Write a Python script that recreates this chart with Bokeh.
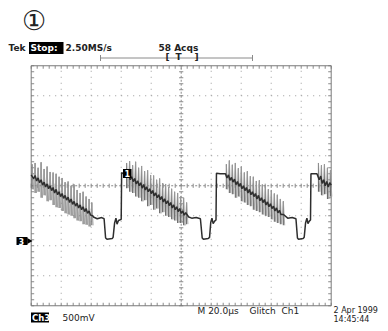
import numpy as np
from bokeh.plotting import figure
from bokeh.models import Range1d
from bokeh.core.properties import value
from bokeh.embed import file_html
from bokeh.resources import INLINE

# ---- scope settings ----
US_PER_DIV = 20.0
VOLTS_PER_DIV = 0.5
GROUND_DIV = -1.84          # Ch3 ground marker (divisions from screen centre)
N_XDIV, N_YDIV = 10, 8

# ---- averaged trace pieces (time in microseconds, Ch3 volts) ----
RAMP1_T = [0.0, 1.6, 2.6, 3.6, 4.6, 5.6, 6.6, 7.6, 8.6, 9.6, 10.6, 11.6, 12.6, 13.6, 14.6, 15.6, 16.6, 17.6,
           18.6, 19.6, 20.6, 21.6, 22.6, 23.6, 24.6, 25.6, 26.6, 27.6, 28.6, 29.6, 30.6, 31.6, 32.6, 33.6,
           34.6, 35.6, 36.6, 37.6, 38.6, 39.6, 41.0]
RAMP1_V = [1.10, 1.04, 1.09, 1.00, 1.05, 0.97, 1.02, 0.93, 0.98, 0.90, 0.95, 0.87, 0.92, 0.84, 0.89, 0.80, 0.86, 0.77,
           0.82, 0.74, 0.79, 0.71, 0.76, 0.68, 0.73, 0.64, 0.70, 0.61, 0.66, 0.58, 0.63, 0.55, 0.60, 0.52,
           0.57, 0.49, 0.54, 0.46, 0.50, 0.43, 0.42]
EDGE1_T = [41.5, 44.0, 47.0, 48.6, 49.6, 50.5, 54.0, 54.6, 55.6, 56.5, 57.2, 58.2, 60.0, 60.3, 61.5]
EDGE1_V = [0.40, 0.37, 0.39, 0.37, 0.05, 0.03, 0.04, 0.06, 0.30, 0.38, 0.28, 0.34, 0.36, 1.14, 1.12]
RAMP2_T = [62.9, 64.0, 65.0, 66.0, 67.0, 68.0, 69.0, 70.0, 71.0, 72.0, 73.0, 74.0, 75.0, 76.0, 77.0, 78.0,
           79.0, 80.0, 81.0, 82.0, 83.0, 84.0, 85.0, 86.0, 87.0, 88.0, 89.0, 90.0, 91.0, 92.0, 93.0, 94.0,
           95.0, 96.0, 97.0, 98.0, 99.0, 100.0, 101.0, 102.0, 103.0, 105.0]
RAMP2_V = [1.13, 1.06, 1.11, 1.02, 1.07, 0.99, 1.04, 0.95, 1.00, 0.92, 0.97, 0.88, 0.94, 0.85, 0.90, 0.82,
           0.87, 0.79, 0.84, 0.75, 0.80, 0.72, 0.77, 0.69, 0.74, 0.65, 0.70, 0.62, 0.67, 0.59, 0.64, 0.55,
           0.60, 0.52, 0.57, 0.49, 0.54, 0.46, 0.50, 0.43, 0.47, 0.40]
EDGE2_T = [107.0, 110.0, 112.8, 114.0, 114.8, 118.0, 118.9, 119.7, 120.5, 121.3, 122.3, 123.2, 123.5, 126.0]
EDGE2_V = [0.38, 0.39, 0.37, 0.05, 0.03, 0.04, 0.06, 0.31, 0.38, 0.29, 0.33, 0.35, 1.13, 1.12]
RAMP3_T = [129.5, 130.5, 131.5, 132.5, 133.5, 134.5, 135.5, 136.5, 137.5, 138.5, 139.5, 140.5, 141.5, 142.5,
           143.5, 144.5, 145.5, 146.5, 147.5, 148.5, 149.5, 150.5, 151.5, 152.5, 153.5, 154.5, 155.5, 156.5,
           157.5, 158.5, 159.5, 160.5, 161.5, 162.5, 163.5, 164.5, 165.5, 166.5, 168.2]
RAMP3_V = [1.12, 1.05, 1.10, 1.01, 1.06, 0.98, 1.03, 0.94, 0.99, 0.91, 0.96, 0.87, 0.92, 0.84,
           0.89, 0.80, 0.86, 0.77, 0.82, 0.74, 0.79, 0.70, 0.76, 0.67, 0.72, 0.64, 0.69, 0.60,
           0.65, 0.57, 0.62, 0.54, 0.58, 0.50, 0.55, 0.47, 0.51, 0.44, 0.44]
EDGE3_T = [171.0, 174.0, 176.5, 177.5, 178.2, 181.3, 182.0, 182.9, 183.8, 184.5, 185.4, 186.2, 186.5]
EDGE3_V = [0.38, 0.39, 0.37, 0.05, 0.03, 0.04, 0.06, 0.30, 0.38, 0.29, 0.33, 0.35, 1.12]
TAIL_T = [190.5, 192.0, 193.0, 194.0, 195.0, 196.0, 197.0, 198.0, 199.0, 200.0]
TAIL_V = [1.12, 1.02, 1.08, 0.96, 1.02, 0.92, 0.99, 0.90, 0.97, 0.93]

# ---- noise spikes riding on each ramp (time, spike top, spike bottom) ----
SPIKE1_T = [0.6, 2.6, 4.6, 6.6, 8.6, 10.6, 12.6, 14.6, 16.6, 18.6, 20.6, 22.6, 24.6, 26.6, 28.6, 30.6,
            32.6, 34.6, 36.6, 38.6, 40.4]
SPIKE1_HI = [1.28, 1.30, 1.22, 1.31, 1.20, 1.24, 1.15, 1.14, 1.12, 1.07, 1.05, 0.98, 0.99, 0.92, 0.94, 0.85,
             0.80, 0.82, 0.74, 0.70, 0.64]
SPIKE1_LO = [0.86, 0.80, 0.82, 0.72, 0.76, 0.66, 0.68, 0.60, 0.56, 0.55, 0.50, 0.46, 0.44, 0.42, 0.38, 0.34,
             0.33, 0.28, 0.27, 0.24, 0.26]
SPIKE2_T = [63.6, 65.6, 67.6, 69.6, 71.6, 73.6, 75.6, 77.6, 79.6, 81.6, 83.6, 85.6, 87.6, 89.6, 91.6, 93.6,
            95.6, 97.6, 99.6, 101.6, 103.6]
SPIKE2_HI = [1.30, 1.33, 1.26, 1.32, 1.22, 1.25, 1.16, 1.18, 1.10, 1.09, 1.02, 1.04, 0.96, 0.95, 0.90, 0.87,
             0.82, 0.80, 0.74, 0.72, 0.64]
SPIKE2_LO = [0.88, 0.82, 0.80, 0.74, 0.72, 0.66, 0.68, 0.58, 0.60, 0.52, 0.54, 0.46, 0.48, 0.42, 0.40, 0.36,
             0.34, 0.30, 0.30, 0.26, 0.28]
SPIKE3_T = [130.1, 132.1, 134.1, 136.1, 138.1, 140.1, 142.1, 144.1, 146.1, 148.1, 150.1, 152.1, 154.1, 156.1,
            158.1, 160.1, 162.1, 164.1, 166.1, 168.1]
SPIKE3_HI = [1.28, 1.34, 1.27, 1.30, 1.21, 1.24, 1.14, 1.16, 1.08, 1.07, 1.00, 1.01, 0.94, 0.93,
             0.86, 0.85, 0.79, 0.77, 0.70, 0.66]
SPIKE3_LO = [0.86, 0.80, 0.78, 0.72, 0.74, 0.66, 0.64, 0.60, 0.58, 0.52, 0.50, 0.48, 0.44, 0.42,
             0.40, 0.36, 0.32, 0.30, 0.28, 0.26]
SPIKE4_T = [191.5, 193.5, 195.5, 197.5, 199.5]
SPIKE4_HI = [1.30, 1.26, 1.28, 1.22, 1.18]
SPIKE4_LO = [0.82, 0.76, 0.78, 0.70, 0.74]

# ---- screen readouts ----
TITLE_MARK = "①"
TXT_TEK, TXT_STOP, TXT_RATE, TXT_ACQS = "Tek", "Stop:", "2.50MS/s", "58 Acqs"
TXT_CH, TXT_SCALE = "Ch3", "500mV"
TXT_TIMEBASE, TXT_TRIG, TXT_TRIGSRC = "M 20.0µs", "Glitch", "Ch1"
TXT_DATE, TXT_TIME = "2 Apr 1999", "14:45:44"


def xd(t):
    return np.asarray(t, dtype=float) / US_PER_DIV


def yd(v):
    return GROUND_DIV + np.asarray(v, dtype=float) / VOLTS_PER_DIV


# layout helpers: picture pixels -> screen divisions (graticule left 30.7px, centre row 185.25px, 30px/div)
def PX(px):
    return (px - 30.7) / 30.0


def PY(py):
    return (185.25 - py) / 30.0


FONT = value("DejaVu Sans")
W, H = 380, 323

p = figure(width=W, height=H, x_range=Range1d(PX(0), PX(W)), y_range=Range1d(PY(H), PY(0)),
           output_backend="svg", toolbar_location=None, x_axis_location=None, y_axis_location=None,
           min_border=0, min_border_left=0, min_border_right=0, min_border_top=0, min_border_bottom=0)
p.grid.visible = False
p.outline_line_color = None
p.background_fill_color = "white"
p.border_fill_color = "white"

# ---- graticule ----
GRID_C = "#9a9a9a"
TICK_C = "#8a8a8a"
inner_x = [k for k in range(1, N_XDIV) if k != N_XDIV // 2]
inner_y = [k for k in range(-N_YDIV // 2 + 1, N_YDIV // 2) if k != 0]
p.multi_line(xs=[[k, k] for k in inner_x], ys=[[-4, 4]] * len(inner_x),
             line_color=GRID_C, line_width=1, line_dash="1 5")
p.multi_line(xs=[[0, 10]] * len(inner_y), ys=[[k, k] for k in inner_y],
             line_color=GRID_C, line_width=1, line_dash="1 5")
p.multi_line(xs=[[5, 5], [0, 10]], ys=[[-4, 4], [0, 0]], line_color=TICK_C, line_width=1, line_dash="2 2")
minor_x = np.arange(0, 10.01, 0.2)
minor_y = np.arange(-4, 4.01, 0.2)
tk = 0.07
p.segment(x0=minor_x, y0=-tk, x1=minor_x, y1=tk, line_color=TICK_C, line_width=1)
p.segment(x0=5 - tk, y0=minor_y, x1=5 + tk, y1=minor_y, line_color=TICK_C, line_width=1)
bt = 0.1
p.segment(x0=minor_x, y0=-4, x1=minor_x, y1=-4 + bt, line_color=TICK_C, line_width=1)
p.segment(x0=minor_x, y0=4, x1=minor_x, y1=4 - bt, line_color=TICK_C, line_width=1)
p.segment(x0=0, y0=minor_y, x1=bt, y1=minor_y, line_color=TICK_C, line_width=1)
p.segment(x0=10, y0=minor_y, x1=10 - bt, y1=minor_y, line_color=TICK_C, line_width=1)
p.quad(left=0, right=10, bottom=-4, top=4, fill_color=None, line_color="#7a7a7a", line_width=1)

# ---- waveform ----
spk_t = SPIKE1_T + SPIKE2_T + SPIKE3_T + SPIKE4_T
spk_hi = SPIKE1_HI + SPIKE2_HI + SPIKE3_HI + SPIKE4_HI
spk_lo = SPIKE1_LO + SPIKE2_LO + SPIKE3_LO + SPIKE4_LO
p.segment(x0=xd(spk_t), y0=yd(spk_lo), x1=xd(spk_t), y1=yd(spk_hi), line_color="#6a6a6a", line_width=1.1)
zz_t, zz_v = [], []
for t, hi, lo in zip(spk_t, spk_hi, spk_lo):
    zz_t += [t, t + 0.9]
    zz_v += [hi, lo]
for a, b in [(0, 21), (21, 42), (42, 62), (62, 67)]:
    p.line(xd(zz_t[2 * a:2 * b]), yd(zz_v[2 * a:2 * b]), line_color="#9a9a9a", line_width=0.8)

trace_t = RAMP1_T + EDGE1_T + RAMP2_T + EDGE2_T + RAMP3_T + EDGE3_T + TAIL_T
trace_v = RAMP1_V + EDGE1_V + RAMP2_V + EDGE2_V + RAMP3_V + EDGE3_V + TAIL_V
p.line(xd(trace_t), yd(trace_v), line_color="#2e2e2e", line_width=1.5)

# ---- markers ----
p.quad(left=PX(16), right=PX(27), bottom=PY(244.5), top=PY(236.5), fill_color="black", line_color=None)
p.scatter(x=[PX(28.5)], y=[PY(240.5)], marker="triangle", angle=-np.pi / 2, size=6,
          fill_color="black", line_color=None)
p.text(x=[PX(18)], y=[PY(240.5)], text=["3"], text_font=FONT, text_font_size="8px",
       text_color="white", text_baseline="middle", text_align="left", text_font_style="bold")
p.quad(left=PX(122.5), right=PX(131), bottom=PY(177.5), top=PY(168.5), fill_color="black", line_color=None)
p.text(x=[PX(126.8)], y=[PY(173)], text=["1"], text_font=FONT, text_font_size="8px",
       text_color="white", text_baseline="middle", text_align="center", text_font_style="bold")

p.segment(x0=PX(100), y0=PY(57.5), x1=PX(252), y1=PY(57.5), line_color=TICK_C, line_width=1)
p.segment(x0=[PX(100), PX(252)], y0=PY(54.5), x1=[PX(100), PX(252)], y1=PY(60.5),
          line_color=TICK_C, line_width=1)
p.text(x=[PX(165), PX(175), PX(194)], y=[PY(56.5)] * 3, text=["[", "T", "]"], text_font=FONT,
       text_font_size="9px", text_color="#222", text_baseline="middle", text_align="left",
       text_font_style="bold")

# ---- readouts ----
p.text(x=[PX(33.5)], y=[PY(20)], text=[TITLE_MARK], text_font=FONT, text_font_size="27px",
       text_color="#222", text_baseline="middle", text_align="center")
p.quad(left=PX(28.5), right=PX(63), bottom=PY(53.5), top=PY(41.5), fill_color="black", line_color=None)
p.text(x=[PX(8), PX(65), PX(158)], y=[PY(47.5)] * 3, text=[TXT_TEK, TXT_RATE, TXT_ACQS],
       text_font=FONT, text_font_size="9px", text_color="#222", text_baseline="middle",
       text_align="left", text_font_style="bold")
p.text(x=[PX(30)], y=[PY(47.5)], text=[TXT_STOP], text_font=FONT, text_font_size="9px",
       text_color="white", text_baseline="middle", text_align="left", text_font_style="bold")

p.quad(left=PX(30.5), right=PX(48.5), bottom=PY(322), top=PY(312), fill_color="black", line_color=None)
p.text(x=[PX(31.5)], y=[PY(317)], text=[TXT_CH], text_font=FONT, text_font_size="8.5px",
       text_color="white", text_baseline="middle", text_align="left", text_font_style="bold")
p.text(x=[PX(62)], y=[PY(317)], text=[TXT_SCALE], text_font=FONT, text_font_size="9px",
       text_color="#222", text_baseline="middle", text_align="left")
p.text(x=[PX(197), PX(249), PX(281)], y=[PY(310.5)] * 3, text=[TXT_TIMEBASE, TXT_TRIG, TXT_TRIGSRC],
       text_font=FONT, text_font_size="9px", text_color="#222", text_baseline="middle", text_align="left")
p.text(x=[PX(333), PX(333)], y=[PY(309.5), PY(318.5)], text=[TXT_DATE, TXT_TIME],
       text_font=FONT, text_font_size="8px", text_color="#222", text_baseline="middle",
       text_align="left")

open("out.html", "w").write(file_html(p, INLINE))
